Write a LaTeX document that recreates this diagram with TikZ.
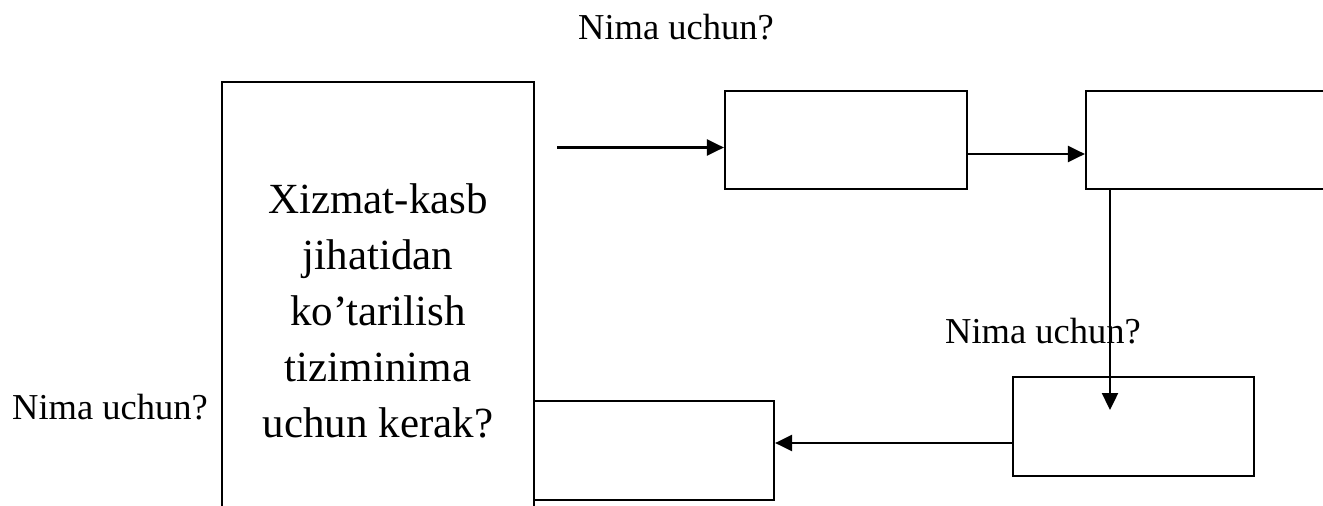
\documentclass[tikz,border=0pt]{standalone}
\usepackage{fontspec}
\setmainfont{Liberation Serif}
\usetikzlibrary{arrows.meta}
\tikzset{
  box/.style={draw, line width=2.2pt, rectangle, inner sep=0pt},
  arr/.style={line width=2.4pt, -{Triangle[length=17pt,width=16pt]}},
  lbl/.style={inner sep=0pt, font=\fontsize{36.5}{44}\selectfont},
  bigtext/.style={inner sep=0pt, align=center, font=\fontsize{43}{56}\selectfont}
}
\begin{document}
\begin{tikzpicture}[x=1pt,y=-1pt]
\useasboundingbox (0,0) rectangle (1323,506);
\clip (0,0) rectangle (1323,506);
% boxes
\node[box, minimum width=312pt, minimum height=448pt] (big) at (378,306) {};
\node[box, minimum width=242pt, minimum height=98pt] (b1) at (846,140) {};
\node[box, minimum width=254pt, minimum height=98pt] (b2) at (1213,140) {};
\node[box, minimum width=241pt, minimum height=99pt] (b4) at (1133.5,426.5) {};
\node[box, minimum width=240pt, minimum height=99pt] (b5) at (654,450.5) {};
% big text
\node[bigtext, anchor=base] (bt) at (378,437) {Xizmat-kasb\\jihatidan\\ko’tarilish\\tiziminima\\uchun kerak?};
% labels
\node[lbl, anchor=base west] (q1) at (578,39) {Nima uchun?};
\node[lbl, anchor=base west] (q2) at (945,343) {Nima uchun?};
\node[lbl, anchor=base west] (q3) at (12,419) {Nima uchun?};
% connectors
\coordinate (s1) at (557,147.5);
\draw[arr] (s1) -- (s1 -| b1.west);
\draw[arr] ([yshift=-14pt]b1.east) -- ([yshift=-14pt]b2.west);
\coordinate (t) at (1110,410);
\draw[arr] (b2.south -| t) -- (t);
\draw[arr] ([yshift=-16.5pt]b4.west) -- ([yshift=-16.5pt]b4.west -| b5.east);
\end{tikzpicture}
\end{document}
